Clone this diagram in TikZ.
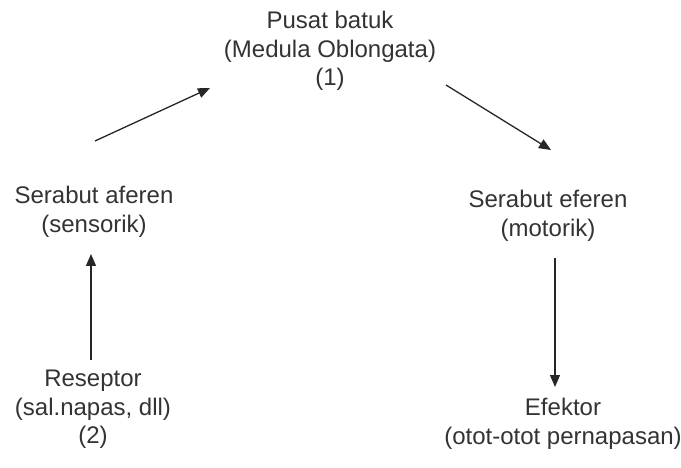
\documentclass[tikz,border=0pt]{standalone}
\usepackage{fontspec}
\setmainfont{Liberation Sans}
\usetikzlibrary{arrows.meta,calc}
\begin{document}
\begin{tikzpicture}[x=1pt,y=-1pt,
  lbl/.style={align=center,inner sep=0pt,font=\fontsize{24}{28.5}\selectfont,text=black!80,anchor=north},
  arr/.style={line width=1.3pt,draw=black!85,-{Triangle[length=12pt,width=10pt]}}]
\useasboundingbox (0,0) rectangle (681,468);
\node[lbl] (pusat) at (330,11) {Pusat batuk\\(Medula Oblongata)\\(1)};
\node[lbl] (aferen) at (94,186) {Serabut aferen\\(sensorik)};
\node[lbl] (eferen) at (548,190) {Serabut eferen\\(motorik)};
\node[lbl] (reseptor) at (93,370) {Reseptor\\(sal.napas, dll)\\(2)};
\node[lbl] (efektor) at (563,398) {Efektor\\(otot-otot pernapasan)};
\draw[arr] ($(aferen.north)+(1,-45)$) -- ($(pusat.north)+(-120,77)$);
\draw[arr] ($(pusat.north)+(116,74)$) -- ($(eferen.north)+(3,-40)$);
\draw[arr] ($(reseptor.north)+(-2,-10)$) -- ($(aferen.north)+(-3,68)$);
\draw[arr] ($(eferen.north)+(7,68)$) -- ($(efektor.north)+(-8,-11)$);
\end{tikzpicture}
\end{document}
